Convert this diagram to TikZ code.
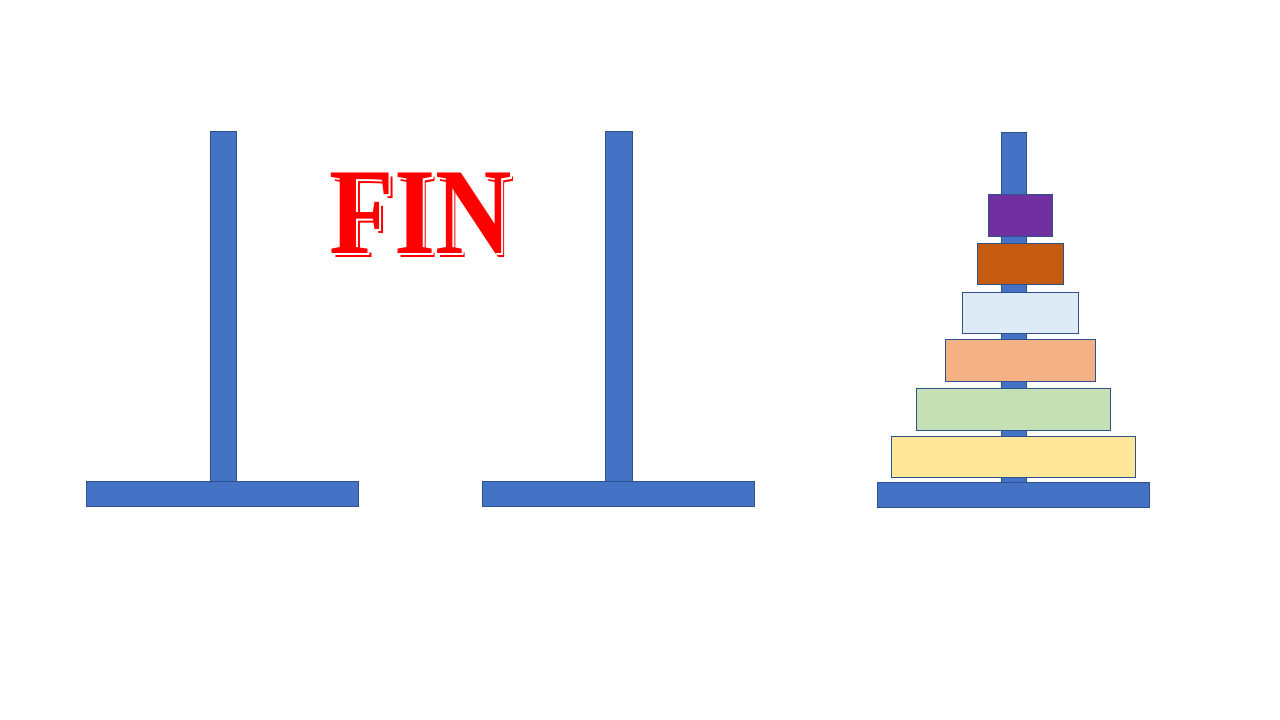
\documentclass[tikz,border=0pt]{standalone}
\usepackage{fontspec}
\newfontfamily\finfont{Liberation Serif}
\definecolor{poleblue}{HTML}{4472C4}
\definecolor{edgeblue}{HTML}{2F528F}
\definecolor{dpurple}{HTML}{7030A0}
\definecolor{dorange}{HTML}{C55A11}
\definecolor{dlightblue}{HTML}{DEEBF7}
\definecolor{dpeach}{HTML}{F4B183}
\definecolor{dgreen}{HTML}{C5E0B4}
\definecolor{dyellow}{HTML}{FFE699}
\newcommand{\engraved}[1]{%
  \makebox[0pt][l]{\hspace{3.6pt}\raisebox{-3.6pt}{\color{red}#1}}%
  \makebox[0pt][l]{\hspace{1.8pt}\raisebox{-1.8pt}{\color{white}#1}}%
  {\color{red}#1}}
\tikzset{
  pole/.style={fill=poleblue, draw=edgeblue, line width=0.8pt},
  disk/.style={draw=edgeblue, line width=0.8pt},
  fintext/.style={font=\finfont\bfseries\fontsize{123}{123}\selectfont, inner sep=0pt, anchor=center, xscale=0.86, transform shape}
}
\begin{document}
\begin{tikzpicture}[x=1pt,y=-1pt]
\useasboundingbox (0,0) rectangle (1280,720);
\fill[white] (0,0) rectangle (1280,720);
% left peg
\draw[pole] (210,131) rectangle (236,481);
\draw[pole] (86,481) rectangle (358,506);
% middle peg
\draw[pole] (605,131) rectangle (632,481);
\draw[pole] (482,481) rectangle (754,506);
% right peg
\draw[pole] (1001.3,132.3) rectangle (1026.7,482.3);
\draw[pole] (877.3,482.3) rectangle (1149.3,507);
% disks
\draw[disk, fill=dpurple] (988.3,194.3) rectangle (1052.7,236.3);
\draw[disk, fill=dorange] (977.3,243.3) rectangle (1063.3,284.3);
\draw[disk, fill=dlightblue] (962.3,292.3) rectangle (1078.3,333.3);
\draw[disk, fill=dpeach] (945.3,339.3) rectangle (1095.3,381.3);
\draw[disk, fill=dgreen] (916.3,388.3) rectangle (1110.3,430);
\draw[disk, fill=dyellow] (891.3,436.3) rectangle (1135.3,477);
% FIN
\node[fintext] (fin) at (421,215.5) {\engraved{FIN}};
\end{tikzpicture}
\end{document}
